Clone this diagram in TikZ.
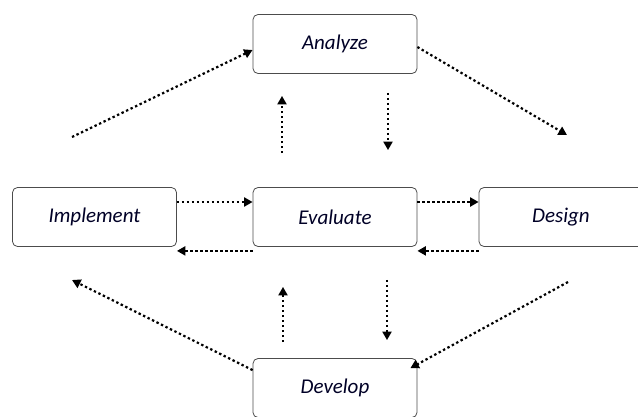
\documentclass[tikz,border=0pt]{standalone}
\usepackage{fontspec}
\setmainfont{Carlito}
\usetikzlibrary{arrows.meta}

\begin{document}
\begin{tikzpicture}[x=1pt,y=-1pt,
    stage/.style={draw=black!70,line width=0.8pt,rounded corners=5pt,
        minimum width=164pt,minimum height=59pt,font=\fontsize{21}{24}\selectfont\itshape,
        text=black!85!blue},
    flow/.style={line width=2.2pt,dash pattern=on 2.4pt off 2.6pt,
        -{Triangle[length=8.5pt,width=9pt]}}]
            \clip (0,0) rectangle (638,416);

            \node[stage] (an) at (335,44) {Analyze};
            \node[stage] (im) at (94.5,217) {Implement};
            \node[stage] (ev) at (335,217) {Evaluate};
            \node[stage] (ds) at (561,217) {Design};
            \node[stage] (de) at (335,388) {Develop};

            \coordinate (imtop) at (72,137);
            \coordinate (dstop) at (567,135);
            \coordinate (imlow) at (72,280);
            \coordinate (dslow) at (568,282);

            % outer loop
            \draw[flow] (imtop) -- ([yshift=-6pt]an.west);
            \draw[flow] ([yshift=-3pt]an.east) -- (dstop);
            \draw[flow] (dslow) -- ([xshift=-7pt,yshift=-10pt]de.north east);
            \draw[flow] ([yshift=-12pt]de.north west) -- (imlow);

            % to and from evaluate
            \draw[flow,shorten <=34pt,shorten >=22pt] ([xshift=-53pt]ev.north) -- ([xshift=-53pt]an.south);
            \draw[flow,shorten <=19pt,shorten >=37pt] ([xshift=53pt]an.south) -- ([xshift=53pt]ev.north);
            \draw[flow,shorten <=16pt,shorten >=40pt] ([xshift=-52pt]de.north) -- ([xshift=-52pt]ev.south);
            \draw[flow,shorten <=33pt,shorten >=18pt] ([xshift=52pt]ev.south) -- ([xshift=52pt]de.north);

            \draw[flow] ([yshift=15pt]im.east) -- ([yshift=15pt]ev.west);
            \draw[flow] ([yshift=15pt]ev.east) -- ([yshift=15pt]ds.west);
            \draw[flow] ([yshift=-4pt]ev.south west) -- ([yshift=-4pt]im.south east);
            \draw[flow] ([yshift=-4pt]ds.south west) -- ([yshift=-4pt]ev.south east);
\end{tikzpicture}
\end{document}
